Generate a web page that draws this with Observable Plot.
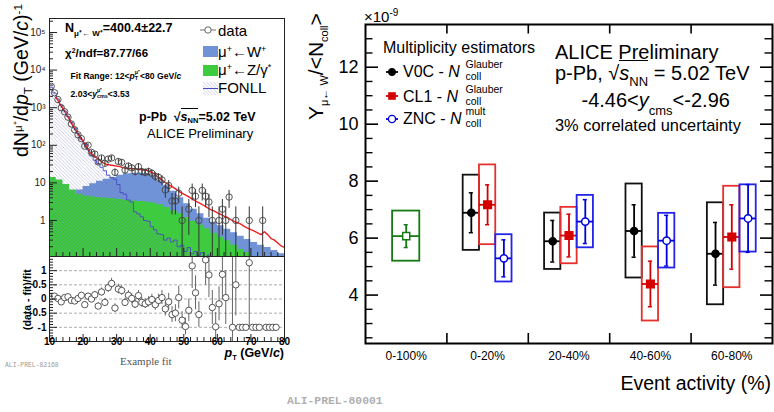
<!DOCTYPE html>
<html><head><meta charset="utf-8">
<script src="https://cdn.jsdelivr.net/npm/d3@7"></script>
<script src="https://cdn.jsdelivr.net/npm/@observablehq/plot@0.6"></script>
<style>
html,body{margin:0;padding:0;background:#fff;}
#wrap{position:relative;width:774px;height:412px;overflow:hidden;background:#fff;font-family:"Liberation Sans",Arial,Helvetica,sans-serif;color:#000;}
.abs{position:absolute;white-space:nowrap;line-height:1;}
.sb{font-size:0.6em;position:relative;top:0.35em;}
.sp{font-size:0.6em;position:relative;top:-0.55em;}
.stk{display:inline-block;vertical-align:middle;font-size:0.62em;line-height:1.05;margin-top:-2px;}
.stk span{display:block;}
.ov{border-top:1px solid currentColor;padding-top:1px;}
</style></head><body><div id="wrap"></div>
<script>
// ================= MAIN CHART (right panel) DATA =================
const categories = ["0-100%", "0-20%", "20-40%", "40-60%", "60-80%"];
const estimatorCats = ["0-20%", "20-40%", "40-60%", "60-80%"];
const v0cValue = [6.89, 5.89, 6.25, 5.45];
const v0cStat  = [0.70, 0.73, 0.92, 1.10];
const v0cSyst  = [1.32, 0.99, 1.65, 1.79];
const cl1Value = [7.17, 6.09, 4.39, 6.04];
const cl1Stat  = [0.70, 0.75, 0.80, 1.13];
const cl1Syst  = [1.40, 0.99, 1.30, 1.78];
const zncValue = [5.29, 6.58, 5.91, 6.69];
const zncStat  = [0.65, 0.77, 0.89, 1.19];
const zncSyst  = [0.83, 0.92, 0.96, 1.18];
const mbCats   = ["0-100%"];
const mbValue  = [6.07];
const mbStat   = [0.40];
const mbSyst   = [0.88];
const yTickValues = [4, 6, 8, 10, 12];

// ================= EXAMPLE FIT (left panel) DATA =================
// histogram templates, 2 GeV/c steps from 10 to 80
const wTemplate = [2.5,3.0,3.8,5.0,6.5,8.0,9.5,11,12.5,14,16,17.5,18,18,17.5,15.5,11,8.5,6.0,4.0,2.8,2.0,1.5,1.15,0.9,0.72,0.58,0.47,0.38,0.31,0.26,0.22,0.19,0.16,0.13,0.12];
const zTemplate = [14,12,9,6.5,5,4.4,4.2,4.0,3.9,3.8,3.6,3.4,3.3,3.2,3.1,2.9,2.6,2.2,1.8,1.5,1.2,0.95,0.75,0.6,0.46,0.36,0.29,0.22,0.17,0.14,0.11,0.09,0.08,0.07,0.06,0.06];
// FONLL, 1 GeV/c steps from 10 to 59
const fonllValues = [3500,2450,1700,1150,820,590,410,290,205,145,108,76,52,40,33,26,21,16,14,12.5,9,5.5,5.0,3.5,3.1,1.7,1.5,1.25,1.0,0.95,0.68,0.56,0.44,0.42,0.3,0.34,0.27,0.3,0.2,0.22,0.15,0.19,0.13,0.15,0.12,0.14,0.1,0.12,0.09,0.1];
// total fit, 1 GeV/c steps from 12 to 80
const fitValues = [1900,1300,950,680,480,330,235,170,130,92,64,54,47,40,34,31,30,29,28,27,25,24.5,24,24,23.5,23,22,21.5,20,18,15,13,11,9.5,8.5,7.5,6.5,5.6,5.0,4.5,4.0,3.5,3.1,2.8,2.5,2.2,1.95,1.8,1.6,1.45,1.3,1.2,1.05,0.95,0.88,0.8,0.7,0.63,0.57,0.52,0.47,0.42,0.5,0.42,0.33,0.3,0.25,0.21,0.19];
// data, bin centres 10.5 ... 79.5
const dataCounts = [3700,2500,1650,1000,780,560,370,260,190,150,
  95,100,65,58,36,46,33,43,46,19,
  37,35,22,28,25,20,27,20,19,20,
  18,15,14,12,6.5,8.5,3.3,3.3,5.3,1,
  0,2,6.3,4.4,1,6.3,4.4,3.1,1,0,
  1,2,1,4.2,0,1,0,0,0,1,
  0,0,0,1,0,0,0,0,0,0];
const dataErr = [60,50,40,32,28,24,19,16,14,12,
  10,10,8,7.6,6,6.8,5.7,6.6,6.8,4.4,
  6.1,5.9,4.7,5.3,5,4.5,5.2,4.5,4.4,4.5,
  4.2,3.9,3.7,3.5,2.6,3,1.9,1.9,2.4,1.3,
  0,1.6,3,2.2,1.3,3,2.2,1.9,1.3,0,
  1.3,1.6,1.3,2.1,0,1.3,0,0,0,1.3,
  0,0,0,1.3,0,0,0,0,0,0];
const ratioValues = [0.08,0.1,0.02,-0.1,0.05,0.08,-0.05,-0.07,0.02,0.13,
  -0.2,0.1,0.0,0.15,-0.25,0.25,-0.12,0.4,0.55,-0.32,
  0.35,0.3,-0.12,0.13,0.02,-0.18,0.12,-0.12,-0.17,-0.1,
  -0.02,-0.2,-0.05,0.05,-0.35,-0.1,-0.55,-0.5,0.05,-0.75,
  -0.97,-0.4,1.17,0.22,-0.55,null,1.38,0.85,-0.3,-0.98,
  -0.17,0.87,0.05,null,-1,0.5,-1,-1,-1,1.28,
  -1,-1,-1,null,-1,-1,-1,-1,null,null];
const ratioErr = [0.03,0.03,0.04,0.04,0.05,0.05,0.06,0.07,0.08,0.08,
  0.09,0.1,0.1,0.12,0.12,0.14,0.14,0.16,0.18,0.15,
  0.17,0.17,0.15,0.17,0.17,0.16,0.18,0.17,0.17,0.18,
  0.19,0.2,0.22,0.25,0.25,0.3,0.28,0.3,0.4,0.3,
  0.3,0.4,0.8,0.6,0.45,0,0.9,0.8,0.6,0.5,
  0.6,0.9,0.95,0,2.5,1.1,0,0,0,2.3,
  0,0,0,0,0,0,0,0,0,0];
const logTicks = [1, 10, 100, 1000, 10000, 100000];
const logTickLabels = ["1", "10", "10²", "10³", "10⁴", "10⁵"];
const ratioTicks = [-1, -0.5, 0, 0.5, 1];
const ratioTickLabels = ["-1", "-0.5", "0", "0.5", "1"];
const ptTicks = [10, 20, 30, 40, 50, 60, 70, 80];

// ================= helpers =================
const wrap = document.getElementById("wrap");
function addDiv(html, style) {
  const d = document.createElement("div");
  d.className = "abs"; d.innerHTML = html;
  Object.assign(d.style, style);
  wrap.appendChild(d); return d;
}
function addRot(html, cx, yStart, fs, style) {
  return addDiv(html, Object.assign({left: (cx - 0.49 * fs) + "px", top: yStart + "px", fontSize: fs + "px",
    transformOrigin: "0 0", transform: "rotate(-90deg)"}, style || {}));
}
function place(svg, left, top) {
  svg.style.position = "absolute"; svg.style.left = left + "px"; svg.style.top = top + "px";
  wrap.appendChild(svg);
}
const baseStyle = {background: "transparent", overflow: "visible", fontFamily: "Liberation Sans, Arial, sans-serif", color: "#000"};

// ================= LEFT PANEL: top (log) =================
const histX = d3.range(10, 81, 2);
const fonllX = d3.range(10, 60, 1);
const fitX = d3.range(12, 81, 1);
const ptCentres = d3.range(10.5, 80, 1);
const wRows = histX.map((x, i) => ({x, y: wTemplate[i]}));
const zRows = histX.map((x, i) => ({x, y: zTemplate[i]}));
const fonllRows = fonllX.map((x, i) => ({x, y: fonllValues[i]}));
const fitRows = fitX.map((x, i) => ({x, y: fitValues[i]}));
const dataRows = ptCentres.map((x, i) => ({x, y: dataCounts[i], e: dataErr[i]})).filter(d => d.y > 0);
const ratioRows = ptCentres.map((x, i) => ({x, r: ratioValues[i], e: ratioErr[i]})).filter(d => d.r !== null);

const LW = 300, LTH = 256, LML = 49, LMR = 16, LMT = 18;
const lpw = LW - LML - LMR, ltph = LTH - LMT;
const logMinor = [];
[0.1, 1, 10, 100, 1000, 10000, 100000].forEach(dec => { for (let m = 2; m <= 9; m++) { const v = dec * m; if (v > 0.11 && v < 2.3e5) logMinor.push(v); } });
const ptMinor = d3.range(12, 80, 2).filter(v => v % 10 !== 0);

const LT = Plot.plot({
  width: LW, height: LTH, marginLeft: LML, marginRight: LMR, marginTop: LMT, marginBottom: 0,
  style: baseStyle,
  x: {domain: [10, 80], axis: null},
  y: {type: "log", domain: [0.11, 2.36e5], axis: null},
  marks: [
    Plot.areaY(wRows, {x: "x", y1: 0.01, y2: "y", curve: "step-after", fill: "#7092d6", clip: true}),
    Plot.areaY(zRows, {x: "x", y1: 0.01, y2: "y", curve: "step-after", fill: "#3fcb3f", clip: true}),
    Plot.areaY(fonllRows, {x: "x", y1: 0.01, y2: "y", curve: "step-after", fill: "url(#hatchL)", clip: true}),
    Plot.line(fonllRows, {x: "x", y: "y", curve: "step-after", stroke: "#4a4ac4", strokeWidth: 0.9, clip: true}),
    Plot.line(fitRows, {x: "x", y: "y", stroke: "#ee1f1f", strokeWidth: 1.4, clip: true}),
    Plot.ruleX(dataRows, {x: "x", y1: d => Math.max(d.y - d.e, 0.01), y2: d => d.y + d.e, stroke: "#333", strokeWidth: 1, clip: true}),
    Plot.dot(dataRows, {x: "x", y: "y", r: 3.2, stroke: "#444", fill: "none", strokeWidth: 0.9, clip: true}),
    Plot.tickY(logTicks, {y: d => d, insetRight: lpw - 8, stroke: "#222"}),
    Plot.tickY(logMinor, {y: d => d, insetRight: lpw - 4, stroke: "#222"}),
    Plot.tickX(ptTicks, {x: d => d, insetTop: ltph - 8, stroke: "#222"}),
    Plot.tickX(ptMinor, {x: d => d, insetTop: ltph - 4, stroke: "#222"}),
    Plot.frame({stroke: "#222", strokeWidth: 1}),
    Plot.text(logTicks, {y: d => d, text: (d, i) => logTickLabels[i], frameAnchor: "left", dx: -4, textAnchor: "end", fontSize: 10, fill: "#222"})
  ]
});
{
  const defs = d3.select(LT).insert("defs", ":first-child");
  const p = defs.append("pattern").attr("id", "hatchL").attr("patternUnits", "userSpaceOnUse").attr("width", 3.5).attr("height", 3.5);
  p.append("path").attr("d", "M-1,-1L4.5,4.5M-1,2.5L1,4.5M2.5,-1L4.5,1").attr("stroke", "rgba(90,90,170,0.42)").attr("stroke-width", 0.7);
}
place(LT, 0, 0);

// ================= LEFT PANEL: ratio =================
const LBH = 100, LBMB = 15;
const lbph = LBH - LBMB;
const ratioMinor = d3.range(-14, 15, 1).map(v => v / 10).filter(v => Math.abs(v * 2 - Math.round(v * 2)) > 1e-6);
const LB = Plot.plot({
  width: LW, height: LBH, marginLeft: LML, marginRight: LMR, marginTop: 0, marginBottom: LBMB,
  style: baseStyle,
  x: {domain: [10, 80], axis: null},
  y: {domain: [-1.5, 1.5], axis: null},
  marks: [
    Plot.ruleY(ratioTicks, {y: d => d, stroke: "#999", strokeDasharray: "3,2", strokeWidth: 0.8}),
    Plot.ruleX(ratioRows.filter(d => d.e > 0), {x: "x", y1: d => d.r - d.e, y2: d => d.r + d.e, stroke: "#666", strokeWidth: 1, clip: true}),
    Plot.dot(ratioRows, {x: "x", y: "r", r: 3.2, stroke: "#444", fill: "white", strokeWidth: 0.9, clip: true}),
    Plot.tickY(ratioTicks, {y: d => d, insetRight: lpw - 8, stroke: "#222"}),
    Plot.tickY(ratioMinor, {y: d => d, insetRight: lpw - 4, stroke: "#222"}),
    Plot.tickX(ptTicks, {x: d => d, insetTop: lbph - 7, stroke: "#222"}),
    Plot.tickX(ptMinor, {x: d => d, insetTop: lbph - 4, stroke: "#222"}),
    Plot.frame({stroke: "#222", strokeWidth: 1}),
    Plot.text(ratioTicks, {y: d => d, text: (d, i) => ratioTickLabels[i], frameAnchor: "left", dx: -3, textAnchor: "end", fontSize: 10, fontWeight: "bold"}),
    Plot.text(ptTicks, {x: d => d, text: d => String(d), frameAnchor: "bottom", dy: 3, fontSize: 10, fontWeight: "bold"})
  ]
});
place(LB, 0, 256);

// left panel texts
addDiv('N<span class="sb" style="font-size:8px;top:4px">μ⁺← W⁺</span>=400.4±22.7', {left: "65px", top: "21.5px", fontSize: "12.5px", fontWeight: "bold"});
addDiv('χ<span class="sp">2</span>/ndf=87.77/66', {left: "65px", top: "47.5px", fontSize: "11.5px", fontWeight: "bold"});
addDiv('Fit Range: 12&lt;<i>p</i><span class="stk"><span>μ⁺</span><span>T</span></span>&lt;80 GeV/<i>c</i>', {left: "70.5px", top: "71.8px", fontSize: "8.6px", fontWeight: "bold"});
addDiv('2.03&lt;<i>y</i><span class="stk"><span>μ⁺</span><span>cms</span></span>&lt;3.53', {left: "70.5px", top: "89.8px", fontSize: "8.6px", fontWeight: "bold"});
addDiv('p-Pb&nbsp; √<span class="ov"><i>s</i><span class="sb">NN</span></span>=5.02 TeV', {left: "139px", top: "110.8px", fontSize: "12.5px", fontWeight: "bold"});
addDiv('ALICE Preliminary', {left: "147px", top: "127.2px", fontSize: "13px"});
// legend (left)
addDiv('<svg width="16" height="8" style="display:block"><line x1="0" y1="4" x2="16" y2="4" stroke="#777" stroke-width="1"/><circle cx="8" cy="4" r="3.2" fill="white" stroke="#555" stroke-width="0.9"/></svg>', {left: "200px", top: "26px"});
addDiv('<svg width="15" height="11" style="display:block"><rect x="0" y="0" width="15" height="11" fill="#7092d6"/></svg>', {left: "202.5px", top: "46px"});
addDiv('<svg width="15" height="11" style="display:block"><rect x="0" y="0" width="15" height="11" fill="#3fcb3f"/></svg>', {left: "202.5px", top: "64.5px"});
addDiv('<svg width="15" height="13" style="display:block"><defs><pattern id="hatchS" patternUnits="userSpaceOnUse" width="3.5" height="3.5"><path d="M-1,-1L4.5,4.5M-1,2.5L1,4.5M2.5,-1L4.5,1" stroke="rgba(90,90,170,0.42)" stroke-width="0.7"/></pattern></defs><rect x="0" y="0" width="15" height="13" fill="url(#hatchS)"/><line x1="0" y1="6.5" x2="15" y2="6.5" stroke="#4a4ac4" stroke-width="1"/></svg>', {left: "202.5px", top: "81.5px"});
addDiv('data', {left: "218px", top: "22.6px", fontSize: "15px"});
addDiv('μ<span class="sp">+</span>←W<span class="sp">+</span>', {left: "218px", top: "44.2px", fontSize: "15px"});
addDiv('μ<span class="sp">+</span>←Z/γ<span class="sp">*</span>', {left: "218px", top: "61.8px", fontSize: "15px"});
addDiv('FONLL', {left: "218px", top: "80px", fontSize: "15px"});
// left axis titles
addRot('dN<span class="sp">μ⁺</span>/d<i>p</i><span class="sb">T</span> (GeV/<i>c</i>)<span class="sp">-1</span>', 21.7, 157, 19.5);
addRot('(data - fit)/fit', 26.7, 330, 10.5, {fontWeight: "bold"});
addDiv('<i>p</i><span class="sb">T</span> (GeV/<i>c</i>)', {right: "490px", top: "347px", fontSize: "12.5px", fontWeight: "bold"});
addDiv('Example fit', {left: "120px", top: "355.6px", fontSize: "11px", fontFamily: "Liberation Serif, serif", color: "#555"});
addDiv('ALI-PREL-82168', {left: "5px", top: "363px", fontSize: "6.4px", fontFamily: "Liberation Mono, monospace", color: "#999"});

// ================= RIGHT PANEL: main chart =================
const RW = 474, RH = 412, RML = 65, RMR = 2, RMT = 24, RMB = 69;
const rpw = RW - RML - RMR, rph = RH - RMT - RMB;
const series = [
  {cats: estimatorCats, value: v0cValue, stat: v0cStat, syst: v0cSyst, offset: -0.2, half: 0.1, bar: "#000", box: "#111", symbol: "circle", fill: "#000", r: 3.6},
  {cats: estimatorCats, value: cl1Value, stat: cl1Stat, syst: cl1Syst, offset: 0, half: 0.1, bar: "#d40000", box: "#e5302e", symbol: "square", fill: "#d40000", r: 4.3},
  {cats: estimatorCats, value: zncValue, stat: zncStat, syst: zncSyst, offset: 0.2, half: 0.1, bar: "#0000dc", box: "#2424ea", symbol: "circle", fill: "#fff", r: 3.7},
  {cats: mbCats, value: mbValue, stat: mbStat, syst: mbSyst, offset: 0, half: 0.167, bar: "#147a14", box: "#147a14", symbol: "square", fill: "#fff", r: 4.0}
];
const marks = [];
series.forEach(s => {
  const R = s.cats.map((c, i) => ({x: categories.indexOf(c) + 0.5 + s.offset, v: s.value[i], st: s.stat[i], sy: s.syst[i]}));
  marks.push(
    Plot.rect(R, {x1: d => d.x - s.half, x2: d => d.x + s.half, y1: d => d.v - d.sy, y2: d => d.v + d.sy, fill: "none", stroke: s.box, strokeWidth: 1.8}),
    Plot.ruleY(R, {y: "v", x1: d => d.x - s.half, x2: d => d.x + s.half, stroke: s.bar, strokeWidth: 1.8}),
    Plot.ruleX(R, {x: "x", y1: d => d.v - d.st, y2: d => d.v + d.st, stroke: s.bar, strokeWidth: 1.8}),
    Plot.ruleY(R, {y: d => d.v + d.st, x1: d => d.x - 0.025, x2: d => d.x + 0.025, stroke: s.bar, strokeWidth: 1.5}),
    Plot.ruleY(R, {y: d => d.v - d.st, x1: d => d.x - 0.025, x2: d => d.x + 0.025, stroke: s.bar, strokeWidth: 1.5}),
    Plot.dot(R, {x: "x", y: "v", symbol: s.symbol, r: s.r, fill: s.fill, stroke: s.bar, strokeWidth: 1.5})
  );
});
const yMinor = d3.range(2.5, 13.4, 0.5).filter(v => !yTickValues.includes(v));
const xBounds = d3.range(1, categories.length);
marks.push(
  Plot.tickY(yTickValues, {y: d => d, insetRight: rpw - 13, strokeWidth: 1.6}),
  Plot.tickY(yTickValues, {y: d => d, insetLeft: rpw - 12, strokeWidth: 1.6}),
  Plot.tickY(yMinor, {y: d => d, insetRight: rpw - 7.5, strokeWidth: 1.4}),
  Plot.tickY(yMinor, {y: d => d, insetLeft: rpw - 7.5, strokeWidth: 1.4}),
  Plot.tickX(xBounds, {x: d => d, insetTop: rph - 10, strokeWidth: 1.6}),
  Plot.tickX(xBounds, {x: d => d, insetBottom: rph - 9.5, strokeWidth: 1.6}),
  Plot.frame({stroke: "#000", strokeWidth: 2}),
  Plot.text(yTickValues, {y: d => d, text: d => String(d), frameAnchor: "left", dx: -7, textAnchor: "end", fontSize: 18}),
  Plot.text(categories, {x: (d, i) => i + 0.5, text: d => d, frameAnchor: "bottom", dy: 16, fontSize: 12})
);
const RP = Plot.plot({
  width: RW, height: RH, marginLeft: RML, marginRight: RMR, marginTop: RMT, marginBottom: RMB,
  style: baseStyle,
  x: {domain: [0, categories.length], axis: null},
  y: {domain: [2.3, 13.5], axis: null},
  marks
});
place(RP, 300, 0);

// right panel texts
addDiv('×10<span class="sp" style="font-size:10px;top:-6px">-9</span>', {left: "364px", top: "8.5px", fontSize: "15px"});
addRot('Y<span class="sb" style="font-size:11px;top:5px">μ← W</span>/&lt;N<span class="sb" style="font-size:11px;top:5px">coll</span>&gt;', 315, 120, 21);
addDiv('Multiplicity estimators', {left: "383px", top: "40.3px", fontSize: "16px"});
const legendRows = [
  {label: "V0C - ", sup: "Glauber", cy: 71.7, mk: '<circle cx="6" cy="6" r="3.6" fill="#000" stroke="#000"/>', col: "#000"},
  {label: "CL1 - ", sup: "Glauber", cy: 96.3, mk: '<rect x="2.2" y="2.2" width="7.6" height="7.6" fill="#d40000"/>', col: "#d40000"},
  {label: "ZNC - ", sup: "mult", cy: 118.8, mk: '<circle cx="6" cy="6" r="3.6" fill="#fff" stroke="#0000dc" stroke-width="1.4"/>', col: "#0000dc"}
];
legendRows.forEach(r => {
  addDiv(`<svg width="12" height="12" style="display:block;overflow:visible"><line x1="0" y1="6" x2="12" y2="6" stroke="${r.col}" stroke-width="1.8"/>${r.mk}</svg>`, {left: "386px", top: (r.cy - 6) + "px"});
  addDiv(r.label + '<i>N</i>', {left: "403px", top: (r.cy - 7.8) + "px", fontSize: "16px"});
  addDiv(r.sup, {left: "465.5px", top: (r.cy - 7.2 - 5.25) + "px", fontSize: "10.5px"});
  addDiv('coll', {left: "465.5px", top: (r.cy + 4.6 - 5.25) + "px", fontSize: "10.5px"});
});
addDiv('ALICE Preliminary', {left: "555px", top: "41.9px", fontSize: "20px"});
addDiv('p-Pb, √<span class="ov"><i>s</i><span class="sb" style="font-size:13px;top:6px">NN</span></span> = 5.02 TeV', {left: "555px", top: "62.9px", fontSize: "20px"});
addDiv('-4.46&lt;<i>y</i><span class="sb" style="font-size:13px;top:8px">cms</span>&lt;-2.96', {left: "581.5px", top: "89.5px", fontSize: "20px"});
addDiv('3% correlated uncertainty', {left: "555px", top: "117px", fontSize: "16.4px"});
addDiv('Event activity (%)', {right: "3px", top: "373.5px", fontSize: "19.5px"});
addDiv('ALI-PREL-80001', {left: "287px", top: "396px", fontSize: "11.4px", fontFamily: "Liberation Mono, monospace", fontWeight: "bold", color: "#b0b0b0"});
</script></body></html>
